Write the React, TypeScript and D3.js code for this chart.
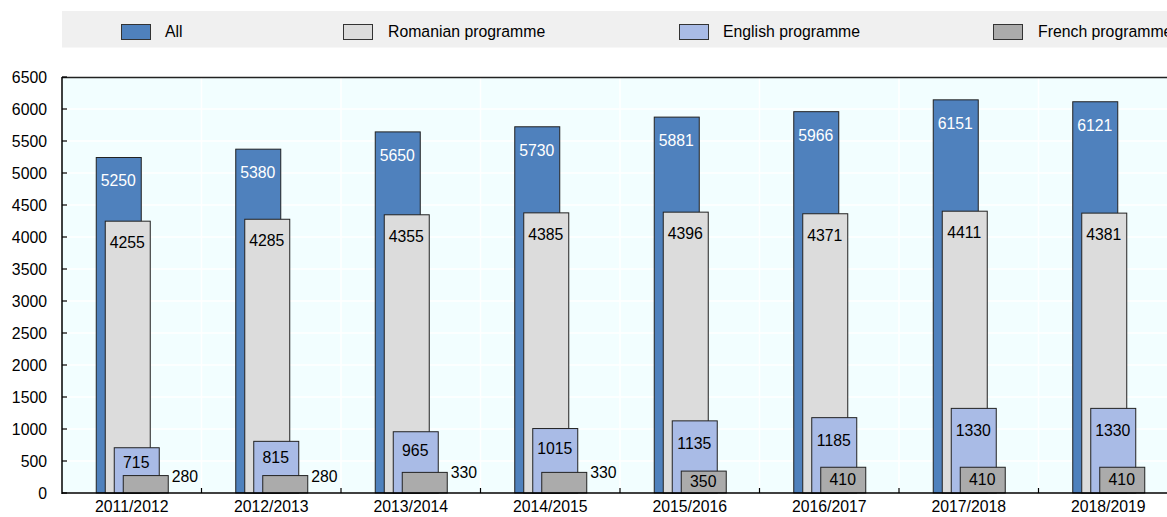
import React from "react";
import * as d3 from "d3";

const categories = ["2011/2012", "2012/2013", "2013/2014", "2014/2015", "2015/2016", "2016/2017", "2017/2018", "2018/2019"];
const allValues = [5250, 5380, 5650, 5730, 5881, 5966, 6151, 6121];
const romanianValues = [4255, 4285, 4355, 4385, 4396, 4371, 4411, 4381];
const englishValues = [715, 815, 965, 1015, 1135, 1185, 1330, 1330];
const frenchValues = [280, 280, 330, 330, 350, 410, 410, 410];
const seriesNames = ["All", "Romanian programme", "English programme", "French programme"];
const yTicks = [0, 500, 1000, 1500, 2000, 2500, 3000, 3500, 4000, 4500, 5000, 5500, 6000, 6500];

const W = 1167;
const H = 517;
const left = 62;
const right = 1178;
const top = 77;
const bottom = 493;
const FONT = "'Liberation Sans', Arial, sans-serif";

const colors = ["#4F81BD", "#DCDCDC", "#A9BBE6", "#ABABAB"];
const series = [allValues, romanianValues, englishValues, frenchValues];

function T({ x, y, anchor = "start", fill = "#000", children }: { x: number; y: number; anchor?: string; fill?: string; children: React.ReactNode }) {
  return (
    <text
      transform={`translate(${x},${y}) scale(0.93,1)`}
      textAnchor={anchor}
      dominantBaseline="middle"
      fontSize={17}
      fill={fill}
    >
      {children}
    </text>
  );
}

export default function App() {
  const x = d3.scaleBand<string>().domain(categories).range([left, right]).padding(0);
  const y = d3.scaleLinear().domain([0, 6500]).range([bottom, top]);
  const barW = 45;
  const step = 9;
  const legendPos = [
    { sx: 121, tx: 165 },
    { sx: 343, tx: 388 },
    { sx: 679, tx: 723 },
    { sx: 993, tx: 1038 },
  ];

  return (
    <div style={{ position: "absolute", left: 0, top: 0, width: W, height: H, overflow: "hidden", background: "#fff" }}>
      <svg width={W} height={H} style={{ display: "block", fontFamily: FONT }}>
        {/* legend */}
        <rect x={62} y={11} width={W - 62} height={36.5} fill="#F0F0F0" />
        {seriesNames.map((n, i) => (
          <g key={n}>
            <rect x={legendPos[i].sx + 0.5} y={24.5} width={29} height={15} fill={colors[i]} stroke="#333" strokeWidth={1} />
            <T x={legendPos[i].tx} y={32.5}>{n}</T>
          </g>
        ))}
        {/* plot background */}
        <rect x={left} y={top} width={right - left} height={bottom - top} fill="#F2FEFF" />
        {yTicks.map((t) => (
          <line key={"g" + t} x1={left} x2={right} y1={y(t)} y2={y(t)} stroke="#fff" strokeWidth={1.5} />
        ))}
        {categories.slice(1).map((c) => (
          <line key={"v" + c} x1={x(c)!} x2={x(c)!} y1={top} y2={bottom} stroke="#fff" strokeWidth={1.5} />
        ))}
        <line x1={left} x2={right} y1={top + 0.5} y2={top + 0.5} stroke="#222" strokeWidth={1.5} />
        {/* bars */}
        {categories.map((c, ci) => {
          const cx = x(c)! + x.bandwidth() / 2;
          const x0 = cx - (barW + 3 * step) / 2;
          return (
            <g key={c}>
              {series.map((vals, si) => {
                const v = vals[ci];
                const bx = x0 + si * step;
                const by = y(v);
                const h = bottom - by;
                let label;
                if (si === 0) {
                  label = <T x={bx + barW / 2} y={by + 25} anchor="middle" fill="#fff">{v}</T>;
                } else if (si === 1) {
                  label = <T x={bx + barW / 2} y={by + 23} anchor="middle">{v}</T>;
                } else if (si === 2) {
                  const off = Math.max(16, Math.min(24, h * 0.33));
                  label = <T x={bx + barW / 2} y={by + off} anchor="middle">{v}</T>;
                } else {
                  if (v < 340) {
                    label = <T x={bx + barW + 4} y={by + 2}>{v}</T>;
                  } else {
                    label = <T x={bx + barW / 2} y={by + h / 2 + 1} anchor="middle">{v}</T>;
                  }
                }
                return (
                  <g key={si}>
                    <rect x={bx + 0.5} y={by + 0.5} width={barW} height={h - 0.5} fill={colors[si]} stroke="#222" strokeWidth={1} />
                    {label}
                  </g>
                );
              })}
            </g>
          );
        })}
        {/* axes */}
        <line x1={left} x2={left} y1={top} y2={bottom + 1} stroke="#000" strokeWidth={1.5} />
        {yTicks.map((t) => (
          <g key={"t" + t}>
            <line x1={left} x2={left + 5} y1={y(t)} y2={y(t)} stroke="#000" strokeWidth={1.2} />
            <T x={47} y={y(t) + 1.5} anchor="end">{t}</T>
          </g>
        ))}
        <line x1={left} x2={right} y1={bottom} y2={bottom} stroke="#000" strokeWidth={1.5} />
        {categories.slice(1).map((c) => (
          <line key={"xt" + c} x1={x(c)!} x2={x(c)!} y1={bottom - 5} y2={bottom} stroke="#000" strokeWidth={1.2} />
        ))}
        {categories.map((c) => (
          <T key={"xl" + c} x={x(c)! + x.bandwidth() / 2} y={508} anchor="middle">{c}</T>
        ))}
      </svg>
    </div>
  );
}
